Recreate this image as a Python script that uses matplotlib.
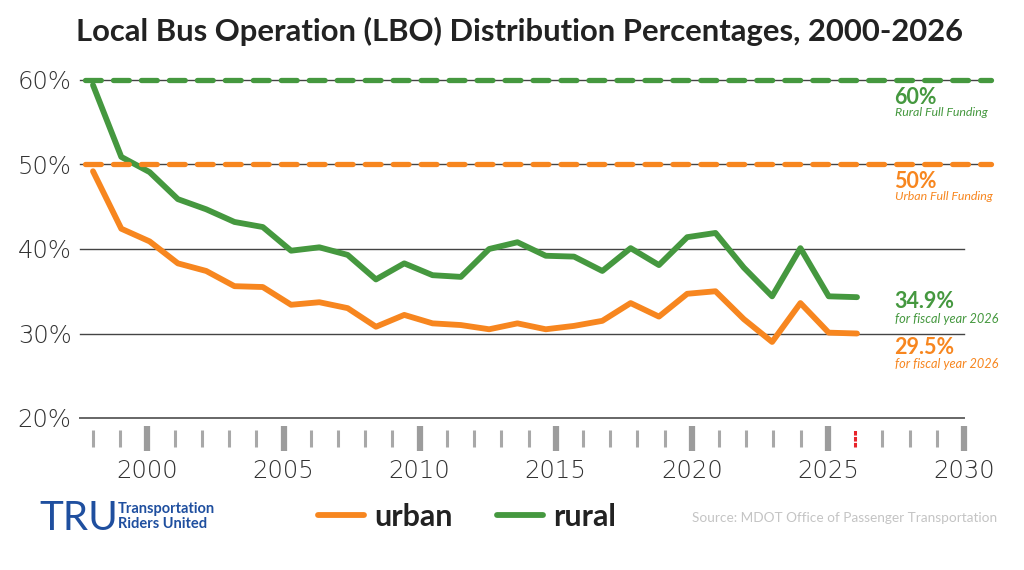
import matplotlib
matplotlib.use("Agg")
import matplotlib.pyplot as plt
import matplotlib.font_manager as fm

# ---------------- data ----------------
years = list(range(1999, 2027))
urban = [49.2, 42.4, 40.9, 38.3, 37.4, 35.6, 35.5, 33.4, 33.7, 33.0,
         30.8, 32.2, 31.2, 31.0, 30.5, 31.2, 30.5, 30.9, 31.5, 33.6,
         32.0, 34.7, 35.0, 31.7, 29.0, 33.6, 30.1, 30.0]
rural = [59.4, 50.9, 49.1, 45.9, 44.7, 43.2, 42.6, 39.8, 40.2, 39.3,
         36.4, 38.3, 36.9, 36.7, 40.0, 40.8, 39.2, 39.1, 37.4, 40.1,
         38.1, 41.4, 41.9, 37.8, 34.4, 40.1, 34.4, 34.3]
y_ticks = [20, 30, 40, 50, 60]
y_labels = ["20%", "30%", "40%", "50%", "60%"]
tick_years = list(range(1998, 2031))
major_years = [2000, 2005, 2010, 2015, 2020, 2025, 2030]
highlight_year = 2026
rural_full = 60
urban_full = 50

ORANGE = "#f7861f"
GREEN = "#45983f"
BLUE = "#1f4f9f"

names = {f.name for f in fm.fontManager.ttflist}
def pick(*cands):
    for c in cands:
        if c in names:
            return c
    return "DejaVu Sans"
SANS = pick("Lato", "Open Sans", "Roboto")
AXF = "DejaVu Sans"

W, H = 1024, 570
fig = plt.figure(figsize=(W / 100, H / 100), dpi=100)

def fx(px):
    return px / W
def fy(py):
    return 1 - py / H

# main axes: left edge 80px, right 1000px; y 20% at 418px, 60% at 80px
ax = fig.add_axes([fx(80), fy(418), (1000 - 80) / W, (418 - 80) / H])
px_per_year = (857 - 93) / (2026 - 1999)
ax.set_xlim(1999 - 13 / px_per_year, 1999 + (1000 - 93) / px_per_year)
ax.set_ylim(20, 60)
for s in ax.spines.values():
    s.set_visible(False)
ax.set_xticks([])
ax.set_yticks(y_ticks)
ax.set_yticklabels(y_labels, fontsize=17.5, color="#333333", family=AXF,
                   fontweight=200)
ax.tick_params(axis="y", length=0, pad=6)

grid_end = (964 - 80) / 920
for v in [30, 40, 50, 60]:
    ax.axhline(v, xmin=0, xmax=grid_end if v in (30, 40) else 0.99,
               color="#444444", lw=1.0, zorder=1, clip_on=False)
ax.axhline(20, xmin=0, xmax=grid_end, color="#666666", lw=1.4, zorder=1,
           clip_on=False)

l_urban, = ax.plot(years, urban, color=ORANGE, lw=4.2, zorder=3,
                   solid_capstyle="round", label="urban", clip_on=False)
l_rural, = ax.plot(years, rural, color=GREEN, lw=4.2, zorder=3,
                   solid_capstyle="round", label="rural", clip_on=False)

for v, c in [(rural_full, GREEN), (urban_full, ORANGE)]:
    ln = ax.axhline(v, xmin=0.005, xmax=0.99, color=c, lw=3.8, zorder=4,
                    linestyle=(0, (3.0, 2.3)), clip_on=False)
    ln.set_dash_capstyle("round")

# tick strip axes: 1998 at 93px, 2030 at 964px
ax2 = fig.add_axes([fx(80), fy(451), (1000 - 80) / W, 25 / H])
tpx = (964 - 93) / (2030 - 1998)
ax2.set_xlim(1998 - 13 / tpx, 1998 + (1000 - 93) / tpx)
ax2.set_ylim(0, 1)
for s in ax2.spines.values():
    s.set_visible(False)
ax2.set_yticks([])
for yr in tick_years:
    if yr in major_years:
        ax2.vlines(yr, 0, 1, color="#9c9c9c", lw=4.5)
    elif yr == highlight_year:
        ax2.vlines(yr, 0.16, 0.84, color="#e8232a", lw=2.2,
                   linestyles=[(0, (1.5, 0.45))])
    else:
        ax2.vlines(yr, 0.16, 0.84, color="#a8a8a8", lw=2.2)
ax2.set_xticks(major_years)
ax2.set_xticklabels([str(y) for y in major_years], fontsize=17.5,
                    color="#333333", family=AXF, fontweight=200)
ax2.tick_params(axis="x", length=0, pad=6)

# title
fig.text(fx(520), fy(31), "Local Bus Operation (LBO) Distribution Percentages, 2000-2026",
         ha="center", va="center", fontsize=22.3, fontweight="bold",
         family=SANS, color="#222222")

# right annotations
def ann(py, txt, color, big, size=None):
    if big:
        fig.text(fx(894), fy(py), txt, ha="left", va="center", fontsize=15.5,
                 fontweight="bold", color=color, family=SANS)
    else:
        fig.text(fx(895), fy(py), txt, ha="left", va="center", fontsize=size,
                 style="italic", color=color, family=SANS)

ann(98, "60%", GREEN, True)
ann(113, "Rural Full Funding", GREEN, False, 8.9)
ann(182, "50%", ORANGE, True)
ann(197, "Urban Full Funding", ORANGE, False, 8.9)
ann(302, "34.9%", GREEN, True)
ann(319, "for fiscal year 2026", GREEN, False, 9.2)
ann(347, "29.5%", ORANGE, True)
ann(364, "for fiscal year 2026", ORANGE, False, 9.2)

# legend
leg = fig.legend(handles=[l_urban, l_rural], labels=["urban", "rural"],
                 loc="center", bbox_to_anchor=(fx(467), fy(517)), ncol=2,
                 frameon=False, handlelength=1.5, handletextpad=0.33,
                 columnspacing=1.45, borderpad=0,
                 prop={"family": SANS, "size": 22, "weight": "bold"})
for t in leg.get_texts():
    t.set_color("#222222")

# logo
fig.text(fx(39), fy(518), "TRU", ha="left", va="center", fontsize=29,
         color=BLUE, family=SANS, fontweight="normal")
fig.text(fx(118), fy(509), "Transportation", ha="left", va="center",
         fontsize=10.5, color=BLUE, family=SANS, fontweight="bold")
fig.text(fx(118), fy(524), "Riders United", ha="left", va="center",
         fontsize=10.5, color=BLUE, family=SANS, fontweight="bold")

# source
fig.text(fx(997), fy(518), "Source: MDOT Office of Passenger Transportation",
         ha="right", va="center", fontsize=9.8, color="#c4c4c4",
         family=SANS, fontweight="normal")

fig.savefig("out.png", dpi=100, facecolor="white")
